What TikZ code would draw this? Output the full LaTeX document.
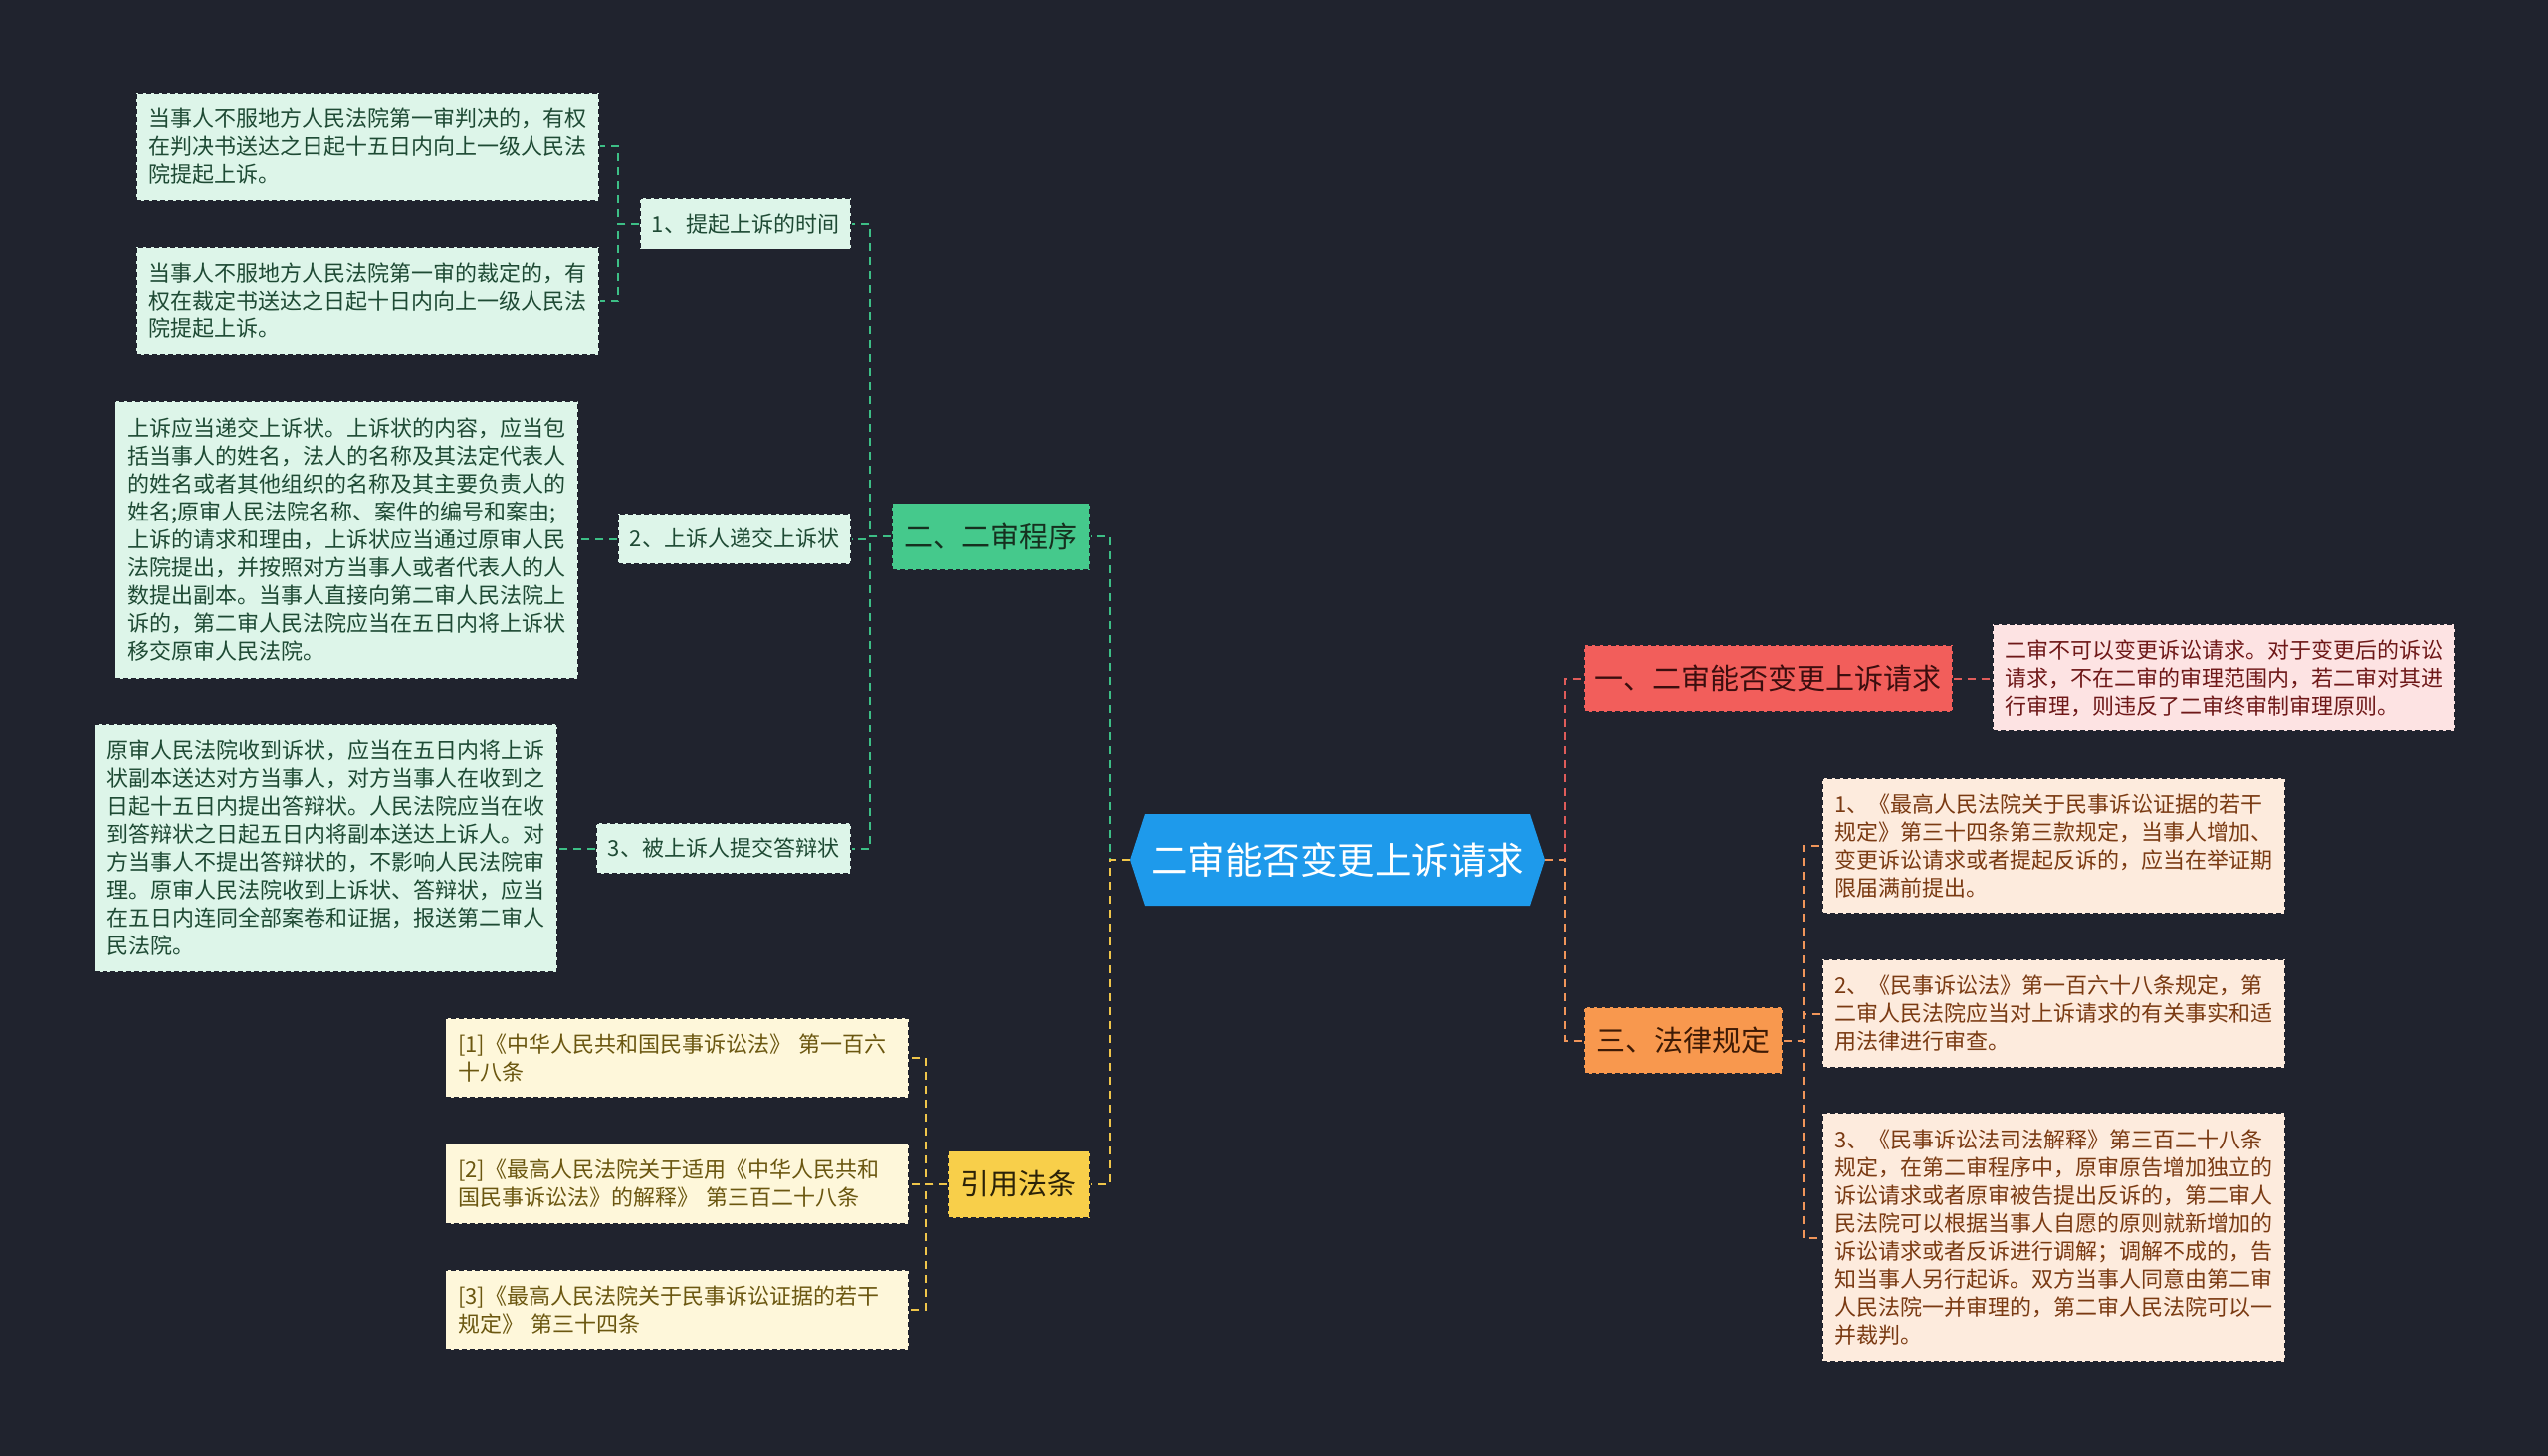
\documentclass[tikz,border=0pt]{standalone}
\usepackage{fontspec}
\newfontfamily\cjk{Noto Sans CJK SC}
\pgfdeclarelayer{background}
\pgfsetlayers{background,main}
\definecolor{bg}{HTML}{20232E}
\definecolor{rootblue}{HTML}{1E9AEB}
\definecolor{gmain}{HTML}{45C98C}
\definecolor{gleaf}{HTML}{DDF5E9}
\definecolor{gtext}{HTML}{1E4A34}
\definecolor{gdark}{HTML}{16301F}
\definecolor{gline}{HTML}{3DBF86}
\definecolor{ymain}{HTML}{F8CF4A}
\definecolor{yleaf}{HTML}{FEF7DA}
\definecolor{ytext}{HTML}{6B5710}
\definecolor{ydark}{HTML}{2B2208}
\definecolor{yline}{HTML}{EFC54A}
\definecolor{rmain}{HTML}{F25E5B}
\definecolor{rleaf}{HTML}{FDE3E3}
\definecolor{rtext}{HTML}{6E1818}
\definecolor{rdark}{HTML}{3B0E0E}
\definecolor{rline}{HTML}{DF5C5A}
\definecolor{omain}{HTML}{F8984E}
\definecolor{oleaf}{HTML}{FDEBDD}
\definecolor{otext}{HTML}{7A3A12}
\definecolor{odark}{HTML}{3D1A05}
\definecolor{oline}{HTML}{F0955A}
\begin{document}
\begin{tikzpicture}[x=1pt,y=-1pt,
  every node/.style={font=\cjk},
  boxborder/.style={draw=bg, dash pattern=on 5pt off 3pt, line width=1.2pt},
  leafbox/.style={rectangle, boxborder, inner xsep=12.5pt, inner ysep=0pt, text width=440pt, align=left, font=\cjk\fontsize{22}{28}\selectfont},
  subbox/.style={rectangle, boxborder, inner sep=0pt, minimum height=51pt, font=\cjk\fontsize{22}{26}\selectfont},
  mainbox/.style={rectangle, boxborder, inner sep=0pt, minimum height=67pt, font=\cjk\fontsize{29}{34}\selectfont},
  link/.style={line width=2pt, dash pattern=on 8pt off 6pt},
]
\begin{pgfonlayer}{background}
\fill[bg] (0,0) rectangle (2560,1463);
\end{pgfonlayer}
\useasboundingbox (0,0) rectangle (2560,1463);

% root
\node[rectangle, inner sep=0pt, text=white, font=\cjk\fontsize{37.5}{44}\selectfont] (root) at (1343.5,864) {二审能否变更上诉请求};
\coordinate (rootL) at ([xshift=-208.5pt]root.center);
\coordinate (rootR) at ([xshift=208.5pt]root.center);
\coordinate (rootNW) at ([shift={(-193.5pt,46pt)}]root.center);
\coordinate (rootNE) at ([shift={(193.5pt,46pt)}]root.center);
\coordinate (rootSW) at ([shift={(-193.5pt,-46pt)}]root.center);
\coordinate (rootSE) at ([shift={(193.5pt,-46pt)}]root.center);
\begin{pgfonlayer}{background}
\fill[rootblue] (rootNW) -- (rootNE) -- (rootR) -- (rootSE) -- (rootSW) -- (rootL) -- cycle;
\end{pgfonlayer}

% main branches
\node[mainbox, fill=gmain, text=gdark, minimum width=199pt] (n2) at (995.5,539) {二、二审程序};
\node[mainbox, fill=ymain, text=ydark, minimum width=143pt] (n4) at (1023.5,1190) {引用法条};
\node[mainbox, fill=rmain, text=rdark, minimum width=371pt] (n1) at (1776.5,681.5) {一、二审能否变更上诉请求};
\node[mainbox, fill=omain, text=odark, minimum width=200pt] (n3) at (1691,1045.5) {三、法律规定};

% green sub nodes
\node[subbox, fill=gleaf, text=gtext, minimum width=212pt] (c1) at (749,225) {1、提起上诉的时间};
\node[subbox, fill=gleaf, text=gtext, minimum width=234pt] (c2) at (738,541.5) {2、上诉人递交上诉状};
\node[subbox, fill=gleaf, text=gtext, minimum width=256pt] (c3) at (727,852.5) {3、被上诉人提交答辩状};

% green leaves
\node[leafbox, fill=gleaf, text=gtext, minimum height=109pt] (a1) at (369.5,147.5) {当事人不服地方人民法院第一审判决的，有权\\在判决书送达之日起十五日内向上一级人民法\\院提起上诉。};
\node[leafbox, fill=gleaf, text=gtext, minimum height=109pt] (a2) at (369.5,302.5) {当事人不服地方人民法院第一审的裁定的，有\\权在裁定书送达之日起十日内向上一级人民法\\院提起上诉。};
\node[leafbox, fill=gleaf, text=gtext, minimum height=279pt] (b) at (348,542.5) {上诉应当递交上诉状。上诉状的内容，应当包\\括当事人的姓名，法人的名称及其法定代表人\\的姓名或者其他组织的名称及其主要负责人的\\姓名;原审人民法院名称、案件的编号和案由;\\上诉的请求和理由，上诉状应当通过原审人民\\法院提出，并按照对方当事人或者代表人的人\\数提出副本。当事人直接向第二审人民法院上\\诉的，第二审人民法院应当在五日内将上诉状\\移交原审人民法院。};
\node[leafbox, fill=gleaf, text=gtext, minimum height=250pt] (cb) at (327,852) {原审人民法院收到诉状，应当在五日内将上诉\\状副本送达对方当事人，对方当事人在收到之\\日起十五日内提出答辩状。人民法院应当在收\\到答辩状之日起五日内将副本送达上诉人。对\\方当事人不提出答辩状的，不影响人民法院审\\理。原审人民法院收到上诉状、答辩状，应当\\在五日内连同全部案卷和证据，报送第二审人\\民法院。};

% yellow leaves
\node[leafbox, fill=yleaf, text=ytext, minimum height=80pt] (d1) at (680,1063) {[1]《中华人民共和国民事诉讼法》 第一百六\\十八条};
\node[leafbox, fill=yleaf, text=ytext, minimum height=80pt] (d2) at (680,1189.5) {[2]《最高人民法院关于适用《中华人民共和\\国民事诉讼法》的解释》 第三百二十八条};
\node[leafbox, fill=yleaf, text=ytext, minimum height=80pt] (d3) at (680,1316) {[3]《最高人民法院关于民事诉讼证据的若干\\规定》 第三十四条};

% red leaf
\node[leafbox, fill=rleaf, text=rtext, minimum height=108pt] (e) at (2234.5,681) {二审不可以变更诉讼请求。对于变更后的诉讼\\请求，不在二审的审理范围内，若二审对其进\\行审理，则违反了二审终审制审理原则。};

% orange leaves
\node[leafbox, fill=oleaf, text=otext, minimum height=136pt] (f1) at (2063.5,850) {1、《最高人民法院关于民事诉讼证据的若干\\规定》第三十四条第三款规定，当事人增加、\\变更诉讼请求或者提起反诉的，应当在举证期\\限届满前提出。};
\node[leafbox, fill=oleaf, text=otext, minimum height=109pt] (f2) at (2063.5,1018.5) {2、《民事诉讼法》第一百六十八条规定，第\\二审人民法院应当对上诉请求的有关事实和适\\用法律进行审查。};
\node[leafbox, fill=oleaf, text=otext, minimum height=251pt] (f3) at (2063.5,1243.5) {3、《民事诉讼法司法解释》第三百二十八条\\规定，在第二审程序中，原审原告增加独立的\\诉讼请求或者原审被告提出反诉的，第二审人\\民法院可以根据当事人自愿的原则就新增加的\\诉讼请求或者反诉进行调解；调解不成的，告\\知当事人另行起诉。双方当事人同意由第二审\\人民法院一并审理的，第二审人民法院可以一\\并裁判。};

% connectors
\begin{pgfonlayer}{background}
\draw[link, draw=gline] (rootL) -- ++(-20,0) |- (n2.east);
\draw[link, draw=yline] (rootL) -- ++(-20,0) |- (n4.east);
\draw[link, draw=rline] (rootR) -- ++(20,0) |- (n1.west);
\draw[link, draw=oline] (rootR) -- ++(20,0) |- (n3.west);
\draw[link, draw=gline] (n2.west) -- ++(-21,0) |- (c1.east);
\draw[link, draw=gline] (n2.west) -- ++(-21,0) |- (c2.east);
\draw[link, draw=gline] (n2.west) -- ++(-21,0) |- (c3.east);
\draw[link, draw=gline] (c1.west) -- ++(-21,0) |- (a1.east);
\draw[link, draw=gline] (c1.west) -- ++(-21,0) |- (a2.east);
\draw[link, draw=gline] (c2.west) -- (c2.west -| b.east);
\draw[link, draw=gline] (c3.west) -- (c3.west -| cb.east);
\draw[link, draw=yline] (n4.west) -- ++(-21,0) |- (d1.east);
\draw[link, draw=yline] (n4.west) -- ++(-21,0) |- (d2.east);
\draw[link, draw=yline] (n4.west) -- ++(-21,0) |- (d3.east);
\draw[link, draw=rline] (n1.east) -- (n1.east -| e.west);
\draw[link, draw=oline] (n3.east) -- ++(20,0) |- (f1.west);
\draw[link, draw=oline] (n3.east) -- ++(20,0) |- (f2.west);
\draw[link, draw=oline] (n3.east) -- ++(20,0) |- (f3.west);
\end{pgfonlayer}
\end{tikzpicture}
\end{document}
